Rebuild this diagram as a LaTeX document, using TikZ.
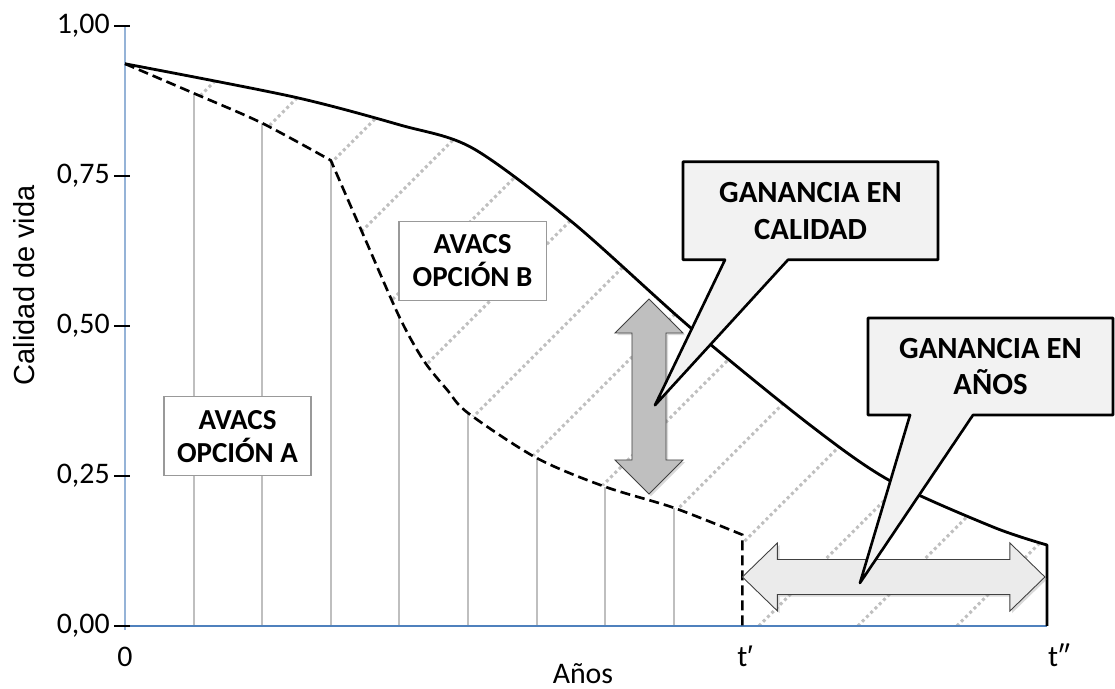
\documentclass[tikz,border=0pt]{standalone}
\usepackage{fontspec}
\setmainfont{Carlito}
\newfontfamily\arialfont{Liberation Sans}
\usepackage{tikz}
\usetikzlibrary{shadows}

\definecolor{myGrey}{HTML}{BFBFBF}
\definecolor{myBlue}{HTML}{4F81BD}
\definecolor{myLightBlue}{HTML}{95B3D7}
\definecolor{myFill}{HTML}{F2F2F2}
\definecolor{myArrowFill}{HTML}{BFBFBF}
\definecolor{myArrowLight}{HTML}{EBEBEB}

\begin{document}
\begin{tikzpicture}[x=1.372cm, y=12cm, inner sep=3pt, font=\fontsize{17}{20}\selectfont]
            \useasboundingbox (-2.5cm,-1.26cm) rectangle (19.8cm,12.52cm);

            \tikzstyle{myHatch}=[myGrey, line width=0.06cm, dash pattern=on 0.06cm off 0.06cm];
            \tikzstyle{myVert}=[myGrey, line width=1.1pt];
            \tikzstyle{myBox}=[draw=black!40, fill=white, line width=0.6pt, align=center,
                               minimum width=2.94cm, minimum height=1.58cm, font=\bfseries\fontsize{16.5}{19}\selectfont];
            \tikzstyle{myCall}=[draw, fill=myFill, line width=1.5pt, line join=round];
            \tikzstyle{myCallText}=[align=center, font=\bfseries\fontsize{17.5}{21}\selectfont];
            \tikzstyle{myArrow}=[draw=black!75, line width=0.5pt,
                                 drop shadow={shadow xshift=1.2pt, shadow yshift=-1.2pt, opacity=0.3}];

            % hatch between the two curves
            \begin{scope}
                \clip plot[smooth] coordinates {(0,0.937) (2.449,0.882) (4.009,0.835) (5.073,0.796) (6.531,0.672) (8.236,0.498) (9.985,0.335) (11.152,0.242) (12.653,0.165) (13.44,0.135)} -- (13.44,0) -- (0,0) -- cycle;
                \foreach \k in {0,...,14}
                    \draw[myHatch] ({-6.633+1.443*\k},0) -- ++(45:25cm);
            \end{scope}
            \fill[white] plot[smooth] coordinates {(0,0.937) (1,0.888) (2,0.838) (3,0.776)}
                -- plot[smooth] coordinates {(3,0.776) (3.5,0.645) (4,0.515) (4.35,0.443) (4.7,0.393) (5,0.355) (6,0.28) (7,0.232) (8,0.197) (9,0.152)}
                -- (9,0) -- (0,0) -- cycle;

            \foreach \k/\v in {1/0.888, 2/0.838, 3/0.776, 4/0.515, 5/0.355, 6/0.28, 7/0.232, 8/0.197}
                \draw[myVert] (\k,0) -- (\k,\v);

            % axes
            \draw[myLightBlue, line width=0.8pt] (0,-0.007) -- (0,1);
            \draw[myBlue, line width=0.8pt] (0,0) -- (13.44,0);
            \foreach \v/\t [count=\i] in {0/{0,00}, 0.25/{0,25}, 0.5/{0,50}, 0.75/{0,75}, 1/{1,00}} {
                \draw[line width=0.8pt] ([xshift=-0.22cm]0,\v) -- ([xshift=0.1cm]0,\v);
                \node[anchor=east, inner sep=0pt] (yl\i) at ([xshift=-0.3cm]0,\v) {\t};
            }
            \node[anchor=base, inner sep=1pt] (x0) at (0,-0.068) {0};
            \node[anchor=base, inner sep=1pt] (t1) at (9.04,-0.068) {t{\arialfont ′}};
            \node[anchor=base, inner sep=1pt] (t2) at (13.615,-0.068) {t″};
            \node[anchor=base, inner sep=1pt] (xlab) at (6.676,-0.096) {Años};
            \node[rotate=90, font=\arialfont\fontsize{16.5}{19}\selectfont] (ylab) at (-1.472,0.568) {Calidad de vida};

            % curves
            \draw[line width=1.6pt, line join=round] plot[smooth] coordinates {(0,0.937) (2.449,0.882) (4.009,0.835) (5.073,0.796) (6.531,0.672) (8.236,0.498) (9.985,0.335) (11.152,0.242) (12.653,0.165) (13.44,0.135)} -- (13.44,0);
            \draw[line width=1.5pt, dash pattern=on 0.2cm off 0.1cm] plot[smooth] coordinates {(0,0.937) (1,0.888) (2,0.838) (3,0.776)}
                -- plot[smooth] coordinates {(3,0.776) (3.5,0.645) (4,0.515) (4.35,0.443) (4.7,0.393) (5,0.355) (6,0.28) (7,0.232) (8,0.197) (9,0.152)}
                -- (9,0);

            % arrows
            \coordinate (qTop) at (7.638,0.545);
            \coordinate (qBot) at (7.638,0.22);
            \draw[myArrow, fill=myArrowFill] (qTop) -- ++(0.68cm,-0.68cm) -- ++(-0.34cm,0) -- ++(0,-2.54cm) -- ++(0.34cm,0) -- (qBot)
                -- ++(-0.68cm,0.68cm) -- ++(0.34cm,0) -- ++(0,2.54cm) -- ++(-0.34cm,0) -- cycle;
            \coordinate (hL) at (9,0.0817);
            \coordinate (hR) at (13.41,0.0817);
            \draw[myArrow, fill=myArrowLight] (hL) -- ++(0.7cm,0.68cm) -- ++(0,-0.33cm) -- ++(4.65cm,0) -- ++(0,0.33cm) -- (hR)
                -- ++(-0.7cm,-0.68cm) -- ++(0,0.33cm) -- ++(-4.65cm,0) -- ++(0,-0.33cm) -- cycle;

            % labels
            \node[myBox] (optA) at (1.64,0.316) {AVACS\\OPCIÓN A};
            \node[myBox] (optB) at (5.066,0.609) {AVACS\\OPCIÓN B};

            \coordinate (tipA) at (7.726,0.368);
            \coordinate (tipB) at (10.714,0.0717);
            \coordinate (cQ) at (9.993,0.692);
            \coordinate (cY) at (12.617,0.4325);
            \draw[myCall] ([shift={(-2.55cm,-0.98cm)}]cQ) -- ++(0,1.96cm) -- ++(5.1cm,0) -- ++(0,-1.96cm)
                -- ([shift={(-0.45cm,-0.98cm)}]cQ) -- (tipA) -- ([shift={(-1.71cm,-0.98cm)}]cQ) -- cycle;
            \node[myCallText] (gainQ) at (cQ) {GANANCIA EN\\CALIDAD};
            \draw[myCall] ([shift={(-2.45cm,-0.97cm)}]cY) -- ++(0,1.94cm) -- ++(4.9cm,0) -- ++(0,-1.94cm)
                -- ([shift={(-0.35cm,-0.97cm)}]cY) -- (tipB) -- ([shift={(-1.61cm,-0.97cm)}]cY) -- cycle;
            \node[myCallText] (gainY) at (cY) {GANANCIA EN\\AÑOS};
         \end{tikzpicture}
\end{document}
